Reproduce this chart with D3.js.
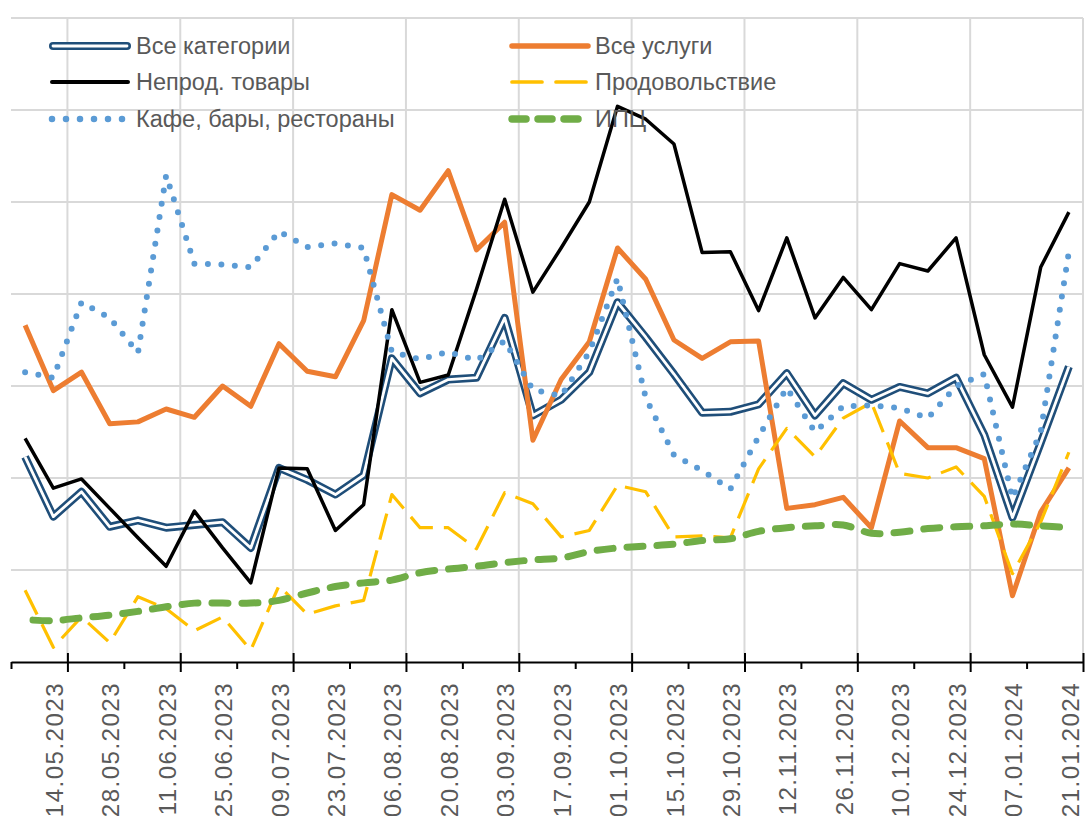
<!DOCTYPE html>
<html>
<head>
<meta charset="utf-8">
<script src="https://cdn.jsdelivr.net/npm/d3@7"></script>
<style>
body { margin: 0; background: #fff; }
svg { display: block; font-family: 'Liberation Sans', Arial, sans-serif; }
</style>
</head>
<body>
<script>

// weekly observation dates
var dates = ['03.05.2023','10.05.2023','17.05.2023','24.05.2023','31.05.2023','07.06.2023','14.06.2023','21.06.2023',
    '28.06.2023','05.07.2023','12.07.2023','19.07.2023','26.07.2023','02.08.2023','09.08.2023','16.08.2023',
    '23.08.2023','30.08.2023','06.09.2023','13.09.2023','20.09.2023','27.09.2023','04.10.2023','11.10.2023',
    '18.10.2023','25.10.2023','01.11.2023','08.11.2023','15.11.2023','22.11.2023','29.11.2023','06.12.2023',
    '13.12.2023','20.12.2023','27.12.2023','03.01.2024','10.01.2024','17.01.2024'];

// axis labels (every two weeks)
var tickLabels = ['14.05.2023','28.05.2023','11.06.2023','25.06.2023','09.07.2023','23.07.2023','06.08.2023',
    '20.08.2023','03.09.2023','17.09.2023','01.10.2023','15.10.2023','29.10.2023','12.11.2023','26.11.2023',
    '10.12.2023','24.12.2023','07.01.2024','21.01.2024'];

var allCategories = [2.23,1.58,1.85,1.47,1.54,1.46,1.49,1.52,1.24,2.11,1.98,1.82,2.03,3.30,2.92,3.07,3.09,3.74,
    2.68,2.85,3.15,3.91,3.53,3.13,2.71,2.72,2.80,3.14,2.68,3.03,2.85,2.99,2.92,3.09,2.47,1.57,2.38,3.21];

var allServices = [3.66,2.95,3.15,2.59,2.61,2.75,2.66,3.00,2.78,3.46,3.16,3.10,3.71,5.08,4.91,5.34,4.48,4.78,
    2.41,3.07,3.48,4.50,4.16,3.50,3.30,3.48,3.49,1.67,1.71,1.79,1.46,2.62,2.33,2.33,2.21,0.72,1.63,2.11];

var nonFood = [2.43,1.89,1.99,1.67,1.35,1.04,1.64,1.24,0.86,2.11,2.10,1.43,1.71,3.83,3.04,3.12,4.05,5.03,
    4.02,4.50,5.00,6.04,5.90,5.63,4.45,4.46,3.82,4.61,3.74,4.18,3.83,4.33,4.25,4.61,3.34,2.77,4.29,4.89];

var food = [0.78,0.16,0.49,0.21,0.71,0.58,0.34,0.49,0.13,0.83,0.52,0.61,0.67,1.82,1.46,1.46,1.23,1.84,
    1.72,1.36,1.43,1.92,1.85,1.36,1.37,1.35,2.10,2.54,2.23,2.65,2.82,2.05,2.00,2.12,1.80,0.96,1.52,2.28];

var cafes = [3.15,3.09,3.91,3.74,3.36,5.29,4.33,4.32,4.29,4.68,4.51,4.55,4.50,3.37,3.29,3.37,3.28,3.49,
    2.96,2.89,3.37,4.17,2.87,2.25,2.08,1.88,2.45,2.98,2.50,2.78,2.79,2.76,2.65,3.00,3.13,1.78,2.50,4.46];

var cpi = [0.46,0.45,0.48,0.51,0.55,0.60,0.64,0.64,0.64,0.67,0.75,0.82,0.86,0.89,0.97,1.01,1.04,1.08,
    1.11,1.13,1.20,1.24,1.26,1.28,1.32,1.34,1.42,1.46,1.48,1.49,1.40,1.41,1.45,1.47,1.48,1.50,1.48,1.46];

var width = 1086,
    height = 816;

var parseDate = d3.utcParse('%d.%m.%Y');

var svg = d3.select('body').append('svg')
    .attr('width', width)
    .attr('height', height);

// scales
var x = d3.scaleUtc()
    .domain([parseDate('30.04.2023'), parseDate('21.01.2024')])
    .range([11, 1083]);
var y = d3.scaleLinear()
    .domain([0, 7])
    .range([662, 18]);

var tickDates = tickLabels.map(parseDate);
var majorDates = tickDates.filter(function(d, i) { return i % 2 == 0; });

function isMajor(d) {
    return majorDates.some(function(m) { return +m == +d; });
}

// gridlines
var grid = svg.append('g');
grid.selectAll('.hgrid')
    .data(d3.range(1, 8))
    .enter().append('line')
    .attr('x1', x.range()[0])
    .attr('x2', x.range()[1])
    .attr('y1', function(d) { return y(d); })
    .attr('y2', function(d) { return y(d); })
    .attr('stroke', '#d9d9d9')
    .attr('stroke-width', 2);
grid.selectAll('.vgrid')
    .data(majorDates)
    .enter().append('line')
    .attr('x1', function(d) { return x(d); })
    .attr('x2', function(d) { return x(d); })
    .attr('y1', y(7))
    .attr('y2', y(0))
    .attr('stroke', '#d9d9d9')
    .attr('stroke-width', 2);

// x axis
var xAxis = d3.axisBottom(x)
    .tickValues([x.domain()[0]].concat(tickDates))
    .tickFormat(function(d, i) { return i == 0 ? '' : tickLabels[i - 1]; })
    .tickSize(0)
    .tickSizeOuter(0);

var axis = svg.append('g')
    .attr('transform', 'translate(0,' + y(0) + ')')
    .call(xAxis);

axis.select('.domain')
    .attr('stroke', '#000')
    .attr('stroke-width', 2);

axis.selectAll('.tick line')
    .attr('stroke', '#000')
    .attr('stroke-width', 2)
    .attr('y1', function(d) { return isMajor(d) ? -9 : 0; })
    .attr('y2', function(d) { return isMajor(d) ? 10 : 7; });

axis.selectAll('.tick text')
    .attr('fill', '#595959')
    .attr('font-size', '24px')
    .attr('font-family', "'Liberation Sans', Arial, sans-serif")
    .attr('letter-spacing', '1.5px')
    .attr('text-anchor', 'end')
    .attr('y', 0)
    .attr('dy', 0)
    .attr('transform', 'translate(-5,20) rotate(-90)');

// series
var series = [
    {name: 'Все категории', values: allCategories, color: '#1f4e79', width: 8, double: true},
    {name: 'Все услуги', values: allServices, color: '#ed7d31', width: 5},
    {name: 'Непрод. товары', values: nonFood, color: '#000000', width: 3.5},
    {name: 'Продовольствие', values: food, color: '#ffc000', width: 3.2, dash: '27 11'},
    {name: 'Кафе, бары, рестораны', values: cafes, color: '#5b9bd5', width: 6, dash: '0 13.5', cap: 'round'},
    {name: 'ИПЦ', values: cpi, color: '#70ad47', width: 7, dash: '16 14', offset: 22, cap: 'round', smooth: true}
];

function xPos(i) {
    // points sit at the middle of their day
    return x(d3.utcHour.offset(parseDate(dates[i]), 12));
}

var lines = svg.append('g');

series.forEach(function(s) {
    var line = d3.line()
        .x(function(d, i) { return xPos(i); })
        .y(function(d) { return y(d); })
        .curve(s.smooth ? d3.curveCatmullRom.alpha(0.5) : d3.curveLinear);

    lines.append('path')
        .datum(s.values)
        .attr('d', line)
        .attr('fill', 'none')
        .attr('stroke', s.color)
        .attr('stroke-width', s.width)
        .attr('stroke-linejoin', 'round')
        .attr('stroke-linecap', s.cap || 'butt')
        .attr('stroke-dasharray', s.dash || null)
        .attr('stroke-dashoffset', s.offset || 0);

    if (s.double) {
        lines.append('path')
            .datum(s.values)
            .attr('d', line)
            .attr('fill', 'none')
            .attr('stroke', '#fff')
            .attr('stroke-width', 2.8)
            .attr('stroke-linejoin', 'round');
    }
});

// legend, two columns
var legendPos = [
    {x: 50, y: 46}, {x: 510, y: 46},
    {x: 50, y: 82}, {x: 510, y: 82},
    {x: 50, y: 119}, {x: 510, y: 119}
];

var legend = svg.append('g');

series.forEach(function(s, i) {
    var p = legendPos[i];
    var item = legend.append('g')
        .attr('transform', 'translate(' + p.x + ',' + p.y + ')');

    item.append('line')
        .attr('x1', s.double ? 3 : 2)
        .attr('x2', s.double ? 77 : 78)
        .attr('stroke', s.color)
        .attr('stroke-width', s.double ? 8 : s.width + 0.5)
        .attr('stroke-linecap', s.double ? 'round' : (s.cap || 'round'))
        .attr('stroke-dasharray', s.dash ? (s.cap == 'round' ? (s.width == 6 ? '0 14' : '14 12') : '30 14') : null);

    if (s.double) {
        item.append('line')
            .attr('x1', 3)
            .attr('x2', 77)
            .attr('stroke', '#fff')
            .attr('stroke-width', 2.8)
            .attr('stroke-linecap', 'round');
    }

    item.append('text')
        .attr('x', i % 2 == 0 ? 86 : 85)
        .attr('dy', '0.35em')
        .attr('fill', '#595959')
        .attr('font-size', '23.5px')
        .text(s.name);
});

</script>
</body>
</html>
